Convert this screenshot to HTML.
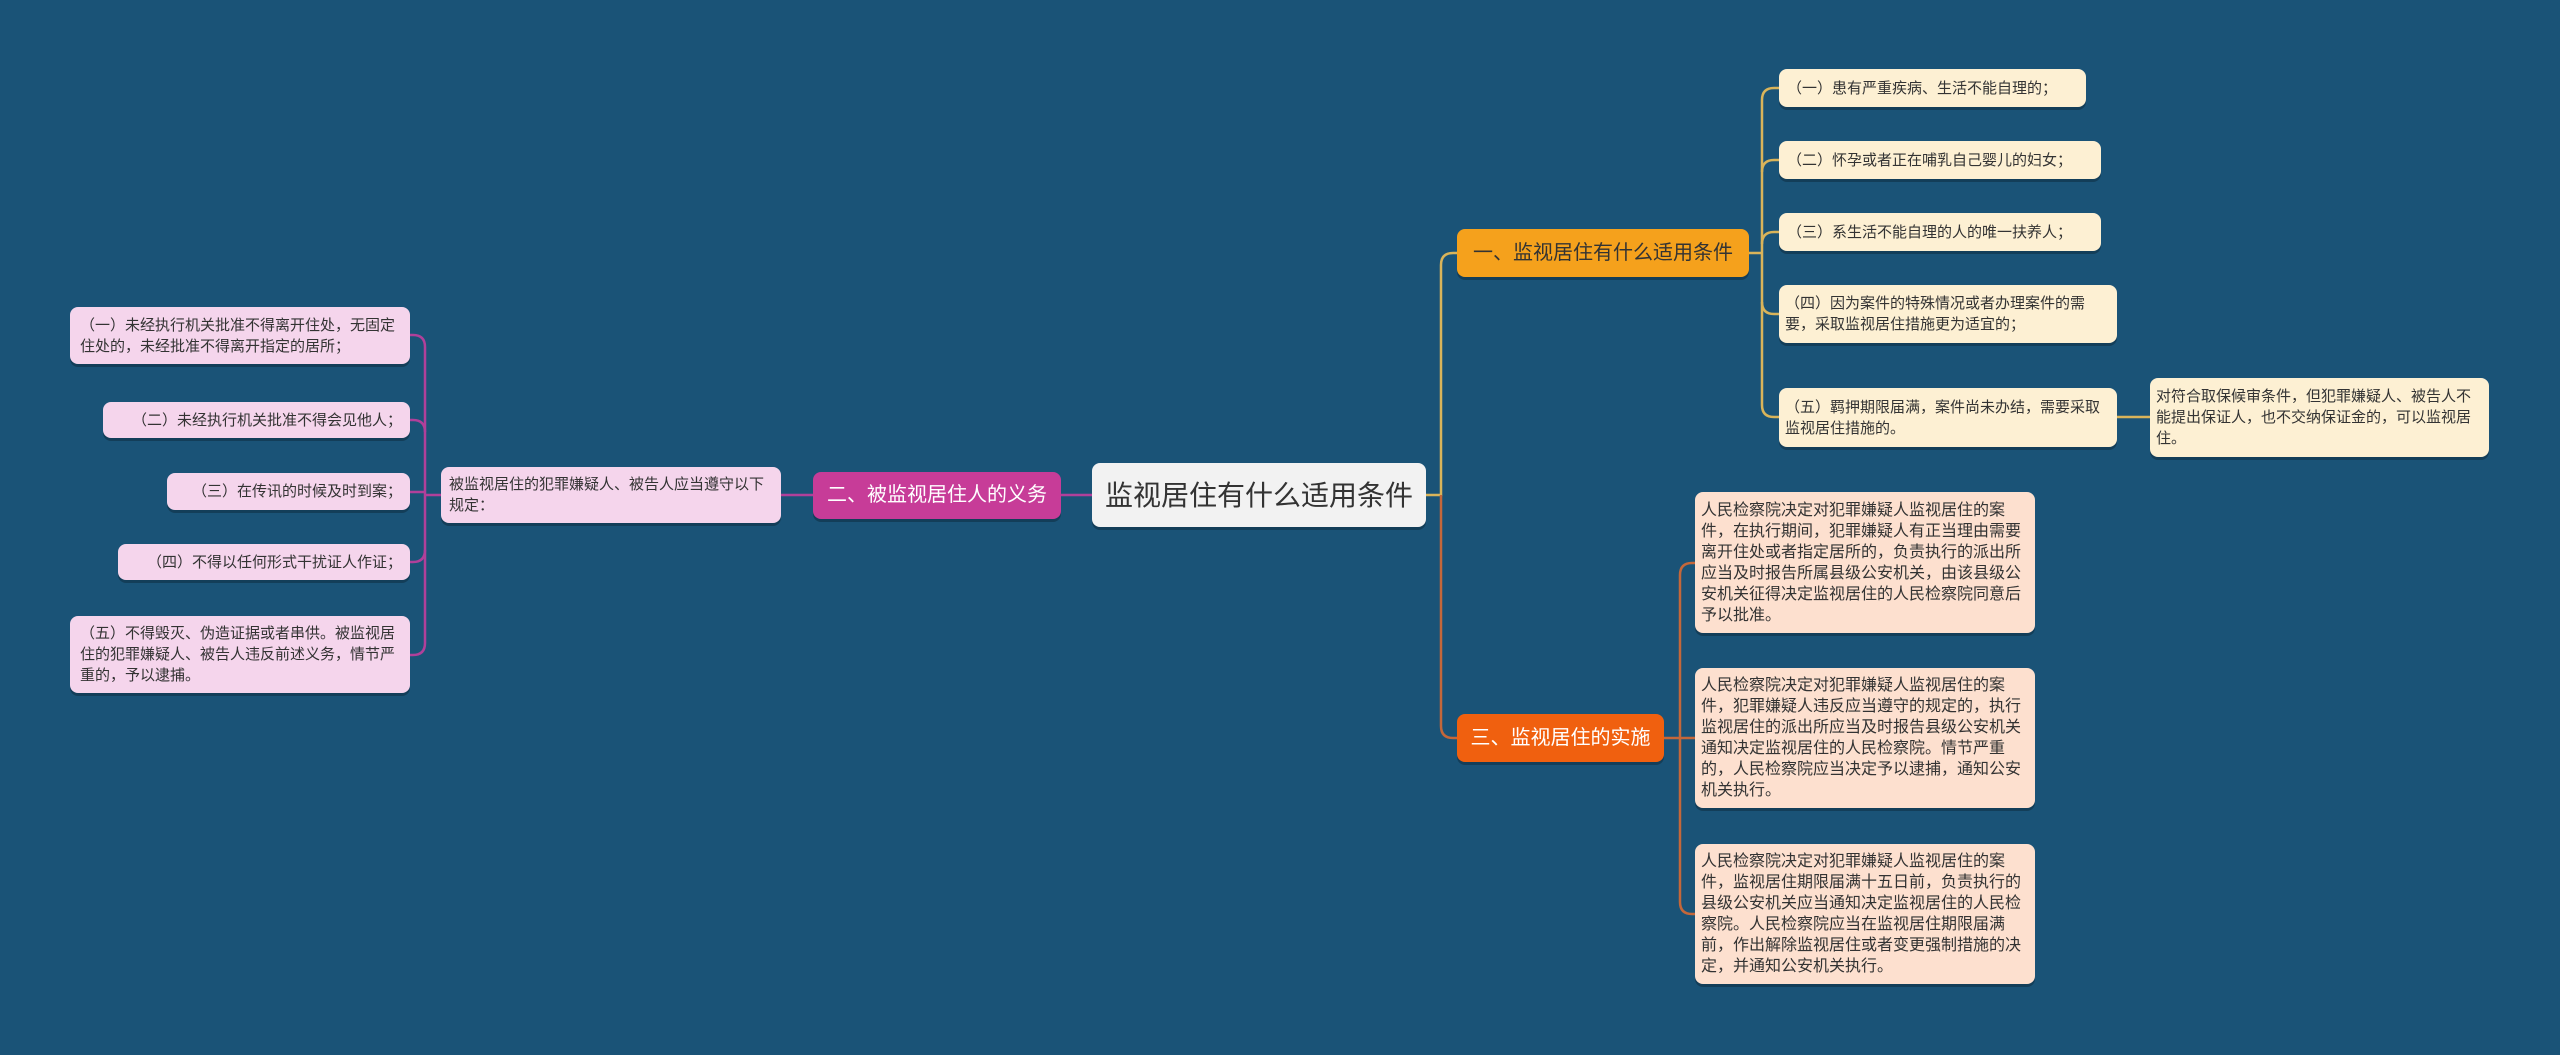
<!DOCTYPE html>
<html><head><meta charset="utf-8"><style>
body{margin:0;width:2560px;height:1055px;background:#1a5377;overflow:hidden;position:relative;font-family:"Liberation Sans","Noto Sans CJK SC",sans-serif}
.n{position:absolute;box-sizing:border-box;border-radius:8px;display:flex;align-items:center;box-shadow:0 3px 0 rgba(0,0,0,0.25);color:#333;font-size:16px;line-height:21px;padding:0 12px}
.s{white-space:nowrap;font-size:15px;padding:0 8px}
.y{background:#fdf0d3}
.p{background:#f5d5ec}
.o{background:#fde0cf}
svg{position:absolute;left:0;top:0}
</style></head><body>
<svg width="2560" height="1055" fill="none">
<g stroke="#d9b45a" stroke-width="2.5">
<path d="M1426 495 H1441 V265 Q1441 253 1453 253 H1457"/>
<path d="M1749 253 H1762"/>
<path d="M1762 100 V405"/>
<path d="M1762 100 Q1762 88 1774 88 H1779"/>
<path d="M1762 172 Q1762 160 1774 160 H1779"/>
<path d="M1762 244 Q1762 232 1774 232 H1779"/>
<path d="M1762 302 Q1762 314 1774 314 H1779"/>
<path d="M1762 405 Q1762 417 1774 417 H1779"/>
<path d="M2117 417 H2150"/>
</g>
<g stroke="#c4673a" stroke-width="2.5">
<path d="M1441 495 V726 Q1441 738 1453 738 H1457"/>
<path d="M1664 738 H1680"/>
<path d="M1680 575 V902"/>
<path d="M1680 575 Q1680 563 1692 563 H1695"/>
<path d="M1680 738 H1695"/>
<path d="M1680 902 Q1680 914 1692 914 H1695"/>
</g>
<g stroke="#b0409a" stroke-width="2.5">
<path d="M1426 495 H1061"/>
<path d="M813 495 H781"/>
<path d="M441 495 H425"/>
<path d="M425 347 V643"/>
<path d="M425 347 Q425 335 413 335 H410"/>
<path d="M425 432 Q425 420 413 420 H410"/>
<path d="M425 492 H410"/>
<path d="M425 550 Q425 562 413 562 H410"/>
<path d="M425 643 Q425 655 413 655 H410"/>
</g>
</svg>

<div class="n" style="left:1092px;top:463px;width:334px;height:64px;background:#f2f2f2;font-size:28px;color:#333;justify-content:center;padding:0">监视居住有什么适用条件</div>
<div class="n" style="left:813px;top:472px;width:248px;height:47px;background:#c73c98;color:#fff;font-size:20px;justify-content:center;padding:0">二、被监视居住人的义务</div>
<div class="n p" style="left:441px;top:467px;width:340px;height:56px;font-size:15px;padding:0 8px">被监视居住的犯罪嫌疑人、被告人应当遵守以下规定：</div>

<div class="n p" style="left:70px;top:307px;width:340px;height:57px;padding:0 10px;font-size:15px">（一）未经执行机关批准不得离开住处，无固定住处的，未经批准不得离开指定的居所；</div>
<div class="n p s" style="left:103px;top:402px;width:307px;height:36px;justify-content:flex-end">（二）未经执行机关批准不得会见他人；</div>
<div class="n p s" style="left:167px;top:473px;width:243px;height:37px;justify-content:flex-end">（三）在传讯的时候及时到案；</div>
<div class="n p s" style="left:118px;top:544px;width:292px;height:36px;justify-content:flex-end">（四）不得以任何形式干扰证人作证；</div>
<div class="n p" style="left:70px;top:616px;width:340px;height:77px;padding:0 10px;font-size:15px">（五）不得毁灭、伪造证据或者串供。被监视居住的犯罪嫌疑人、被告人违反前述义务，情节严重的，予以逮捕。</div>

<div class="n" style="left:1457px;top:229px;width:292px;height:48px;background:#f5a11c;font-size:20px;color:#333;justify-content:center;padding:0">一、监视居住有什么适用条件</div>
<div class="n y s" style="left:1779px;top:69px;width:307px;height:38px">（一）患有严重疾病、生活不能自理的；</div>
<div class="n y s" style="left:1779px;top:141px;width:322px;height:38px">（二）怀孕或者正在哺乳自己婴儿的妇女；</div>
<div class="n y s" style="left:1779px;top:213px;width:322px;height:38px">（三）系生活不能自理的人的唯一扶养人；</div>
<div class="n y" style="left:1779px;top:285px;width:338px;height:58px;padding:0 6px;font-size:15px">（四）因为案件的特殊情况或者办理案件的需要，采取监视居住措施更为适宜的；</div>
<div class="n y" style="left:1779px;top:388px;width:338px;height:59px;padding:0 6px;font-size:15px">（五）羁押期限届满，案件尚未办结，需要采取监视居住措施的。</div>
<div class="n y" style="left:2150px;top:378px;width:339px;height:79px;padding:0 6px;font-size:15px">对符合取保候审条件，但犯罪嫌疑人、被告人不能提出保证人，也不交纳保证金的，可以监视居住。</div>

<div class="n" style="left:1457px;top:714px;width:207px;height:48px;background:#f0600f;color:#fff;font-size:20px;justify-content:center;padding:0">三、监视居住的实施</div>
<div class="n o" style="left:1695px;top:492px;width:340px;height:141px;padding:0 6px">人民检察院决定对犯罪嫌疑人监视居住的案件，在执行期间，犯罪嫌疑人有正当理由需要离开住处或者指定居所的，负责执行的派出所应当及时报告所属县级公安机关，由该县级公安机关征得决定监视居住的人民检察院同意后予以批准。</div>
<div class="n o" style="left:1695px;top:668px;width:340px;height:140px;padding:0 6px">人民检察院决定对犯罪嫌疑人监视居住的案件，犯罪嫌疑人违反应当遵守的规定的，执行监视居住的派出所应当及时报告县级公安机关通知决定监视居住的人民检察院。情节严重的，人民检察院应当决定予以逮捕，通知公安机关执行。</div>
<div class="n o" style="left:1695px;top:844px;width:340px;height:140px;padding:0 6px">人民检察院决定对犯罪嫌疑人监视居住的案件，监视居住期限届满十五日前，负责执行的县级公安机关应当通知决定监视居住的人民检察院。人民检察院应当在监视居住期限届满前，作出解除监视居住或者变更强制措施的决定，并通知公安机关执行。</div>
</body></html>
